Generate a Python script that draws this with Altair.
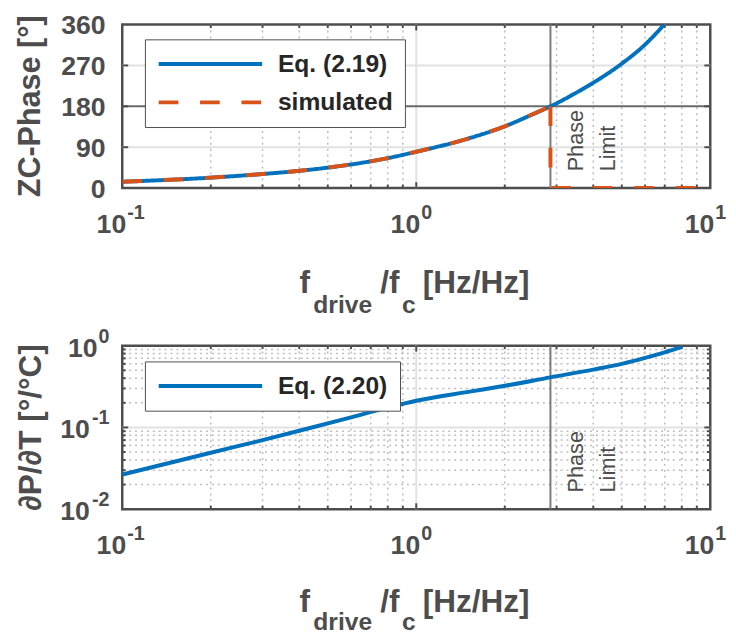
import altair as alt
import pandas as pd

# ---------------- values ----------------
# top panel: ZC-phase vs normalised drive frequency
freq_eq19 = [0.1, 0.2, 0.3, 0.4, 0.5, 0.6, 0.8, 1.0, 1.5, 2.0, 2.5, 2.86, 3.5, 4.0, 5.0, 6.0, 6.97]
phase_eq19 = [14, 23, 31, 38, 45, 52, 66, 80, 109, 136, 163, 180, 210, 232, 274, 316, 360]
freq_sim = [0.1, 0.2, 0.3, 0.4, 0.5, 0.6, 0.8, 1.0, 1.5, 2.0, 2.5, 2.86]
phase_sim = [14, 23, 31, 38, 45, 52, 66, 80, 109, 136, 163, 180]
freq_sim_drop = [2.86, 2.86, 10.0]
phase_sim_drop = [180, 0, 0]

# bottom panel: dP/dT vs normalised drive frequency
freq_eq20 = [0.1, 0.2, 0.3, 0.4, 0.6, 0.8, 1.0, 1.5, 2.0, 2.86, 4.0, 5.0, 6.0, 7.0, 8.0]
dpdt_eq20 = [0.0265, 0.049, 0.070, 0.091, 0.133, 0.175, 0.212, 0.272, 0.323, 0.41, 0.51, 0.60, 0.71, 0.83, 0.965]

phase_limit = [2.86]

series_top = ["Eq. (2.19)", "simulated"]
series_bot = ["Eq. (2.20)"]

xtick_vals = [0.1, 1, 10]
xtick_exp = ["-1", "0", "1"]
x_minor = [0.2, 0.3, 0.4, 0.5, 0.6, 0.7, 0.8, 0.9, 2, 3, 4, 5, 6, 7, 8, 9]

ytop_ticks = [0, 90, 180, 270, 360]
ytop_grid = [90, 270]
ytop_line = [180]

ybot_ticks = [0.01, 0.1, 1]
ybot_exp = ["-2", "-1", "0"]
ybot_minor = [0.02, 0.03, 0.04, 0.05, 0.06, 0.07, 0.08, 0.09,
              0.2, 0.3, 0.4, 0.5, 0.6, 0.7, 0.8, 0.9]

xtitle_parts = ["f", "drive", "/f", "c", "[Hz/Hz]"]
ytitle_top = "ZC-Phase [°]"
ytitle_bot = "∂P/∂T [°/°C]"
limit_text = ["Phase", "Limit"]

# ---------------- style ----------------
W, H = 597, 166
BLUE = "#0072BD"
ORANGE = "#D95319"
FRAME = "#4d4d4d"
TXT = "#4d4d4d"
GRID_MAJ = "#e2e2e2"
GRID_MIN = "#bdbdbd"
LIMIT = "#7a7a7a"
FONT = "Liberation Sans, Arial, sans-serif"

TICK_FS = 27
SUP_FS = 20
TITLE_FS = 31
SUB_FS = 25

XS = alt.Scale(type="log", domain=[0.1, 10], nice=False)
YS_TOP = alt.Scale(domain=[0, 360], nice=False, zero=False)
YS_BOT = alt.Scale(type="log", domain=[0.01, 1], nice=False)


def one_row():
    return pd.DataFrame({"a": [0]})


def vrules(vals, color, width, dash=None):
    kw = dict(color=color, strokeWidth=width)
    if dash:
        kw["strokeDash"] = dash
    return alt.Chart(pd.DataFrame({"v": vals})).mark_rule(**kw).encode(
        x=alt.X("v:Q", scale=XS, axis=None))


def hrules(vals, ys, color, width, dash=None):
    kw = dict(color=color, strokeWidth=width)
    if dash:
        kw["strokeDash"] = dash
    return alt.Chart(pd.DataFrame({"v": vals})).mark_rule(**kw).encode(
        y=alt.Y("v:Q", scale=ys, axis=None))


def xticks(vals, length):
    df = pd.DataFrame({"v": vals})
    b = alt.Chart(df).mark_rule(color=FRAME, strokeWidth=2).encode(
        x=alt.X("v:Q", scale=XS, axis=None), y=alt.value(H), y2=alt.value(H - length))
    t = alt.Chart(df).mark_rule(color=FRAME, strokeWidth=2).encode(
        x=alt.X("v:Q", scale=XS, axis=None), y=alt.value(0), y2=alt.value(length))
    return [b, t]


def yticks(vals, ys, length):
    df = pd.DataFrame({"v": vals})
    l = alt.Chart(df).mark_rule(color=FRAME, strokeWidth=2).encode(
        y=alt.Y("v:Q", scale=ys, axis=None), x=alt.value(0), x2=alt.value(length))
    r = alt.Chart(df).mark_rule(color=FRAME, strokeWidth=2).encode(
        y=alt.Y("v:Q", scale=ys, axis=None), x=alt.value(W - length), x2=alt.value(W))
    return [l, r]


def text_at(txt, x, y, size, bold=True, align="left", angle=None, color=TXT):
    kw = dict(align=align, baseline="alphabetic", font=FONT, fontSize=size,
              fontWeight="bold" if bold else "normal", color=color)
    if angle is not None:
        kw["angle"] = angle
    return alt.Chart(one_row()).mark_text(**kw).encode(
        x=alt.value(x), y=alt.value(y), text=alt.value(txt))


def xlabels():
    df = pd.DataFrame({"v": xtick_vals, "e": xtick_exp})
    base = alt.Chart(df).mark_text(
        align="right", baseline="alphabetic", dx=4, font=FONT, fontSize=TICK_FS,
        fontWeight="bold", color=TXT).encode(
        x=alt.X("v:Q", scale=XS, axis=None), y=alt.value(H + 46), text=alt.value("10"))
    sup = alt.Chart(df).mark_text(
        align="left", baseline="alphabetic", dx=5, font=FONT, fontSize=SUP_FS,
        fontWeight="bold", color=TXT).encode(
        x=alt.X("v:Q", scale=XS, axis=None), y=alt.value(H + 31), text="e:N")
    return [base, sup]


def xtitle(main_off, sub_off):
    f, drive, sl, c, hz = xtitle_parts
    return [
        text_at(f, 180, H + main_off, TITLE_FS + 1),
        text_at(drive, 194, H + sub_off, SUB_FS),
        text_at(sl, 262, H + main_off, TITLE_FS + 1),
        text_at(c, 284, H + sub_off, SUB_FS),
        text_at(hz, 305, H + main_off, TITLE_FS + 1),
    ]


def limit_label():
    return alt.Chart(pd.DataFrame({"v": phase_limit})).mark_text(
        align="left", baseline="alphabetic", angle=270, dy=33, lineHeight=33,
        font=FONT, fontSize=22, color=TXT).encode(
        x=alt.X("v:Q", scale=XS, axis=None), y=alt.value(149),
        text=alt.value(limit_text))


# ---------------- top panel ----------------
leg_common = dict(orient="none", legendX=23, title=None, symbolType="stroke",
                  symbolSize=11025, symbolStrokeWidth=4, labelFont=FONT,
                  labelFontSize=25, labelFontWeight="bold", labelColor="#262626",
                  strokeColor=FRAME, fillColor="white", padding=12,
                  rowPadding=13, clipHeight=26, labelOffset=14, labelLimit=400)

leg_top = alt.Legend(legendY=15, **leg_common)
color_top = alt.Color("series:N", scale=alt.Scale(domain=series_top, range=[BLUE, ORANGE]),
                      legend=leg_top)
dash_top = alt.StrokeDash("series:N", scale=alt.Scale(domain=series_top, range=[[1, 0], [20, 22]]),
                          legend=leg_top)

df_eq19 = pd.DataFrame({"f": freq_eq19, "p": phase_eq19, "series": series_top[0]})
df_sim = pd.DataFrame({"f": freq_sim, "p": phase_sim, "series": series_top[1]})
df_drop = pd.DataFrame({"f": freq_sim_drop, "p": phase_sim_drop, "o": [0, 1, 2]})

line_eq19 = alt.Chart(df_eq19).mark_line(strokeWidth=4, interpolate="monotone", clip=True).encode(
    x=alt.X("f:Q", scale=XS, axis=None), y=alt.Y("p:Q", scale=YS_TOP, axis=None),
    color=color_top, strokeDash=dash_top)
line_sim = alt.Chart(df_sim).mark_line(strokeWidth=4, interpolate="monotone", clip=True).encode(
    x=alt.X("f:Q", scale=XS, axis=None), y=alt.Y("p:Q", scale=YS_TOP, axis=None),
    color=color_top, strokeDash=dash_top)
line_drop = alt.Chart(df_drop).mark_line(strokeWidth=4, color=ORANGE, strokeDash=[20, 22], clip=True).encode(
    x=alt.X("f:Q", scale=XS, axis=None), y=alt.Y("p:Q", scale=YS_TOP, axis=None),
    order="o:Q")

ylab_top = alt.Chart(pd.DataFrame({"v": ytop_ticks})).mark_text(
    align="right", baseline="middle", dy=2, font=FONT, fontSize=TICK_FS, fontWeight="bold", color=TXT).encode(
    y=alt.Y("v:Q", scale=YS_TOP, axis=None), x=alt.value(-17), text="v:N")

top_layers = [
    vrules(x_minor, GRID_MIN, 1.5, [2, 4]),
    vrules([1], GRID_MAJ, 2),
    hrules(ytop_grid, YS_TOP, GRID_MAJ, 2),
    hrules(ytop_line, YS_TOP, "#6a6a6a", 2),
    vrules(phase_limit, LIMIT, 2),
    *xticks([1], 6), *xticks(x_minor, 3.5), *yticks([90, 180, 270], YS_TOP, 6),
    line_eq19, line_sim, line_drop,
    limit_label(), ylab_top, *xlabels(), *xtitle(107, 127),
    text_at(ytitle_top, -84, H / 2, TITLE_FS, align="center", angle=270),
]
top = alt.layer(*top_layers).properties(width=W, height=H)

# ---------------- bottom panel ----------------
leg_bot = alt.Legend(legendY=16, **leg_common)
df_eq20 = pd.DataFrame({"f": freq_eq20, "d": dpdt_eq20, "series": series_bot[0]})
line_eq20 = alt.Chart(df_eq20).mark_line(strokeWidth=4, interpolate="monotone", clip=True).encode(
    x=alt.X("f:Q", scale=XS, axis=None), y=alt.Y("d:Q", scale=YS_BOT, axis=None),
    color=alt.Color("series:N", scale=alt.Scale(domain=series_bot, range=[BLUE]), legend=leg_bot))

df_ybot = pd.DataFrame({"v": ybot_ticks, "e": ybot_exp})
ysup_bot = alt.Chart(df_ybot).mark_text(
    align="right", baseline="alphabetic", dy=-3, font=FONT, fontSize=SUP_FS, fontWeight="bold", color=TXT).encode(
    y=alt.Y("v:Q", scale=YS_BOT, axis=None), x=alt.value(-13), text="e:N")
ybase_short = alt.Chart(df_ybot).transform_filter("length(datum.e) == 1").mark_text(
    align="right", baseline="alphabetic", dy=11, font=FONT, fontSize=TICK_FS, fontWeight="bold", color=TXT).encode(
    y=alt.Y("v:Q", scale=YS_BOT, axis=None), x=alt.value(-25), text=alt.value("10"))
ybase_long = alt.Chart(df_ybot).transform_filter("length(datum.e) == 2").mark_text(
    align="right", baseline="alphabetic", dy=11, font=FONT, fontSize=TICK_FS, fontWeight="bold", color=TXT).encode(
    y=alt.Y("v:Q", scale=YS_BOT, axis=None), x=alt.value(-33), text=alt.value("10"))

bot_layers = [
    vrules(x_minor, GRID_MIN, 1.5, [2, 4]),
    hrules(ybot_minor, YS_BOT, GRID_MIN, 1.5, [2, 4]),
    vrules([1], GRID_MAJ, 2),
    hrules([0.1], YS_BOT, GRID_MAJ, 2),
    vrules(phase_limit, LIMIT, 2),
    *xticks([1], 6), *xticks(x_minor, 3.5),
    *yticks([0.1], YS_BOT, 6), *yticks(ybot_minor, YS_BOT, 3.5),
    line_eq20,
    limit_label(), ysup_bot, ybase_short, ybase_long, *xlabels(), *xtitle(104, 123),
    text_at(ytitle_bot, -83, H / 2, TITLE_FS + 1, align="center", angle=270),
]
bottom = alt.layer(*bot_layers).properties(width=W, height=H)

chart = alt.vconcat(top, bottom, spacing=160, bounds="flush").resolve_scale(
    color="independent", strokeDash="independent"
).configure_view(stroke=FRAME, strokeWidth=2.5).properties(
    padding={"left": 5, "top": -2, "right": 0, "bottom": 0})

chart.save("out.html", embed_options={"renderer": "svg", "actions": False})
